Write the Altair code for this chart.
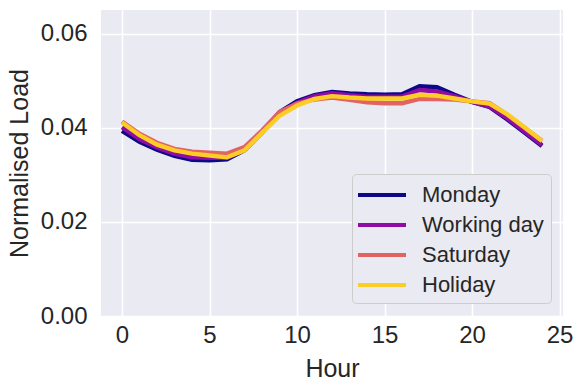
import altair as alt
import pandas as pd

hours = list(range(25))
series_names = ["Monday", "Working day", "Saturday", "Holiday"]
monday = [0.0393, 0.0370, 0.0353, 0.0340, 0.0332, 0.0331, 0.0333, 0.0352, 0.0390, 0.0433,
          0.0456, 0.0469, 0.0476, 0.0473, 0.0471, 0.0470, 0.0471, 0.0488, 0.0486, 0.0470,
          0.0455, 0.0444, 0.0418, 0.0390, 0.0361]
working_day = [0.0401, 0.0376, 0.0358, 0.0345, 0.0337, 0.0336, 0.0336, 0.0353, 0.0390, 0.0431,
               0.0453, 0.0467, 0.0473, 0.0469, 0.0466, 0.0466, 0.0466, 0.0480, 0.0477, 0.0467,
               0.0455, 0.0445, 0.0420, 0.0392, 0.0363]
saturday = [0.0413, 0.0387, 0.0368, 0.0355, 0.0349, 0.0347, 0.0345, 0.0359, 0.0394, 0.0433,
            0.0451, 0.0460, 0.0464, 0.0459, 0.0454, 0.0452, 0.0452, 0.0461, 0.0461, 0.0460,
            0.0456, 0.0452, 0.0428, 0.0400, 0.0372]
holiday = [0.0411, 0.0384, 0.0364, 0.0352, 0.0345, 0.0341, 0.0337, 0.0352, 0.0389, 0.0425,
           0.0447, 0.0461, 0.0467, 0.0464, 0.0462, 0.0462, 0.0462, 0.0470, 0.0468, 0.0462,
           0.0456, 0.0451, 0.0429, 0.0401, 0.0372]
colors = ["#0d0887", "#8f0da4", "#e16462", "#fccd25"]
x_ticks = [0, 5, 10, 15, 20, 25]
y_ticks = [0.0, 0.02, 0.04, 0.06]

rows = []
for name, vals in zip(series_names, [monday, working_day, saturday, holiday]):
    for h, v in zip(hours, vals):
        rows.append({"Hour": h, "Load": v, "Day": name, "order": series_names.index(name)})
df = pd.DataFrame(rows)

FONT = "Liberation Sans"
TXT = "#262626"

chart = alt.Chart(df).mark_line(strokeWidth=4.4, strokeCap="butt").encode(
    x=alt.X("Hour:Q", scale=alt.Scale(domain=[-1.2, 25.2], nice=False, zero=False),
            axis=alt.Axis(values=x_ticks, title="Hour", format="d", labelPadding=7)),
    y=alt.Y("Load:Q", scale=alt.Scale(domain=[0, 0.065], nice=False),
            axis=alt.Axis(values=y_ticks, title="Normalised Load", format=".2f", labelPadding=14)),
    color=alt.Color("Day:N", scale=alt.Scale(domain=series_names, range=colors),
                    sort=series_names,
                    legend=alt.Legend(title=None, orient="none", legendX=251, legendY=164,
                                      symbolType="M-2,0L2,0", symbolSize=576, symbolStrokeWidth=4,
                                      symbolOffset=9,
                                      labelFontSize=22, labelFont=FONT, labelColor=TXT,
                                      labelOffset=26, rowPadding=5, padding=7,
                                      fillColor="#eaeaf2", strokeColor="#cccccc",
                                      cornerRadius=4)),
    order=alt.Order("order:Q"),
).properties(
    width=462, height=306,
    autosize=alt.AutoSizeParams(type="none"),
    padding={"left": 93, "top": 2, "right": 14, "bottom": 68},
).configure_view(
    fill="#eaeaf2", stroke=None
).configure_axis(
    domain=False, ticks=False, grid=True, gridColor="white", gridWidth=1.6,
    labelFont=FONT, labelFontSize=24, labelColor=TXT,
    titleFont=FONT, titleFontSize=25, titleColor=TXT, titleFontWeight="normal",
).configure_axisX(titlePadding=9).configure_axisY(titlePadding=8)

chart.save("out.html", embed_options={"renderer": "svg", "actions": False})
